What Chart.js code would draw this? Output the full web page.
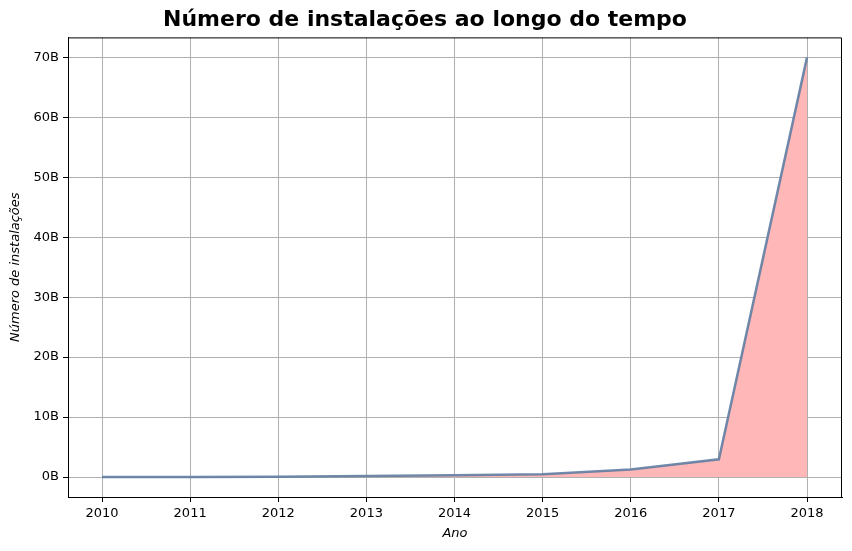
<!DOCTYPE html>
<html>
<head>
<meta charset="utf-8">
<script src="https://cdn.jsdelivr.net/npm/chart.js@4"></script>
<style>
  html, body { margin: 0; padding: 0; background: #fff; }
  #wrap { width: 852px; height: 551px; }
</style>
</head>
<body>
<div id="wrap"><canvas id="installsChart" width="852" height="551"></canvas></div>
<script>
// DATA
const years = [2010, 2011, 2012, 2013, 2014, 2015, 2016, 2017, 2018];
const installs = [0.0e9, 0.02e9, 0.05e9, 0.15e9, 0.3e9, 0.45e9, 1.25e9, 2.95e9, 70.0e9];
const yTicks = [0, 10e9, 20e9, 30e9, 40e9, 50e9, 60e9, 70e9];

const FONT = "'DejaVu Sans', sans-serif";
const GRID = "#b0b0b0";

const canvas = document.getElementById("installsChart");

new Chart(canvas, {
  type: "line",
  data: {
    datasets: [
      {
        label: "Instalações",
        data: years.map((y, i) => ({ x: y, y: installs[i] })),
        borderColor: "rgba(96,125,162,0.9)",
        borderWidth: 2.5,
        backgroundColor: "#ffb7b8",
        fill: "origin",
        pointRadius: 0,
        tension: 0,
      },
    ],
  },
  options: {
    responsive: false,
    animation: false,
    layout: { padding: { left: 8, right: 10, top: 0, bottom: 10 } },
    plugins: {
      legend: { display: false },
      tooltip: { enabled: false },
      title: {
        display: true,
        text: "Número de instalações ao longo do tempo",
        color: "#000",
        font: { family: FONT, size: 22, weight: "bold" },
        padding: { top: 7, bottom: 4 },
      },
    },
    scales: {
      x: {
        type: "linear",
        min: 2009.614,
        max: 2018.397,
        afterBuildTicks: (scale) => {
          scale.ticks = years.map((v) => ({ value: v }));
        },
        afterFit: (scale) => {
          scale.height = 44;
        },
        ticks: {
          color: "#000",
          font: { family: FONT, size: 13 },
          padding: 4,
          maxRotation: 0,
          callback: (value) => String(value),
        },
        grid: {
          color: GRID,
          lineWidth: 1,
          drawTicks: true,
          tickLength: 5,
          tickColor: "#000",
        },
        border: { color: "#000", width: 1 },
        title: {
          display: true,
          text: "Ano",
          color: "#000",
          font: { family: FONT, size: 13, style: "italic" },
          padding: { top: 0, bottom: 0 },
        },
      },
      y: {
        min: -3.333e9,
        max: 73.333e9,
        afterBuildTicks: (scale) => {
          scale.ticks = yTicks.map((v) => ({ value: v }));
        },
        afterFit: (scale) => {
          scale.width = 60;
        },
        ticks: {
          color: "#000",
          font: { family: FONT, size: 13 },
          padding: 4,
          callback: (value) => `${Math.round(value / 1e9)}B`,
        },
        grid: {
          color: GRID,
          lineWidth: 1,
          drawTicks: true,
          tickLength: 5,
          tickColor: "#000",
        },
        border: { color: "#000", width: 1 },
        title: {
          display: true,
          text: "Número de instalações",
          color: "#000",
          font: { family: FONT, size: 13, style: "italic" },
          padding: { top: 0, bottom: 2 },
        },
      },
    },
  },
  plugins: [
    {
      // TOP AND RIGHT SPINES
      id: "frame",
      afterDraw(chart) {
        const { ctx, chartArea } = chart;
        ctx.save();
        ctx.strokeStyle = "#000";
        ctx.lineWidth = 1;
        ctx.beginPath();
        ctx.moveTo(chartArea.left, chartArea.top + 0.5);
        ctx.lineTo(chartArea.right - 0.5, chartArea.top + 0.5);
        ctx.lineTo(chartArea.right - 0.5, chartArea.bottom);
        ctx.stroke();
        ctx.restore();
      },
    },
  ],
});
</script>
</body>
</html>
